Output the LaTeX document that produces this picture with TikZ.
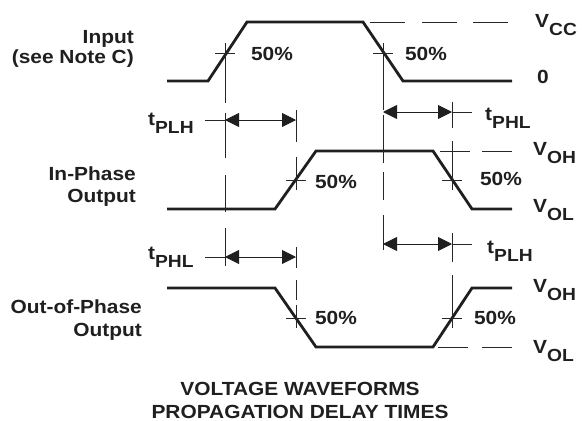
\documentclass[tikz,border=0pt]{standalone}
\usepackage{fontspec}
\setmainfont{Liberation Sans Bold}[FakeStretch=1.1]
\usetikzlibrary{arrows.meta}
\newcommand\lblfont{\fontsize{19}{22}\selectfont}
\newcommand\lvl[2]{#1\raisebox{-8pt}{\fontsize{17.5}{18}\selectfont #2}}
\begin{document}
\begin{tikzpicture}[x=1pt,y=-1pt,
  >={Triangle[length=14pt,width=14pt]},
  wave/.style={line width=2.8pt, line join=miter, color=black!88},
  thin/.style={line width=0.9pt, color=black!85},
  hdsh/.style={line width=0.9pt, color=black!85},
  dim/.style={line width=0.9pt, color=black!88, <->},
  lbl/.style={inner sep=0pt, font=\lblfont, text=black!88}]
\useasboundingbox (0,0) rectangle (582,421);

% ---------- waveforms ----------
\coordinate (i0) at (167,81);  \coordinate (i1) at (208,81);
\coordinate (i2) at (247,22);  \coordinate (i3) at (363,22);
\coordinate (i4) at (403,81);  \coordinate (i5) at (512,81);
\draw[wave] (i0) -- (i1) -- (i2) -- (i3) -- (i4) -- (i5);

\coordinate (p0) at (167,209); \coordinate (p1) at (275,209);
\coordinate (p2) at (316,151); \coordinate (p3) at (433,151);
\coordinate (p4) at (472,209); \coordinate (p5) at (512,209);
\draw[wave] (p0) -- (p1) -- (p2) -- (p3) -- (p4) -- (p5);

\coordinate (q0) at (167,288); \coordinate (q1) at (275,288);
\coordinate (q2) at (316,347); \coordinate (q3) at (433,347);
\coordinate (q4) at (472,288); \coordinate (q5) at (512,288);
\draw[wave] (q0) -- (q1) -- (q2) -- (q3) -- (q4) -- (q5);

% ---------- level dashed lines ----------
\draw[hdsh] (370,22) -- (405,22) (422,22) -- (457,22) (473,22) -- (508,22);
\draw[hdsh] (440,151) -- (470,151) (482,151) -- (512,151);
\draw[hdsh] (438,347) -- (468,347) (482,347) -- (512,347);

% ---------- 50% crosses ----------
\foreach \x/\y in {225/53, 383/53, 296/180, 452/180, 296/318, 452/318}{
  \draw[thin] (\x-10,\y) -- (\x+10,\y) (\x,\y-10) -- (\x,\y+10);
}

% ---------- vertical dashed reference lines ----------
\draw[thin] (225,63) -- (225,103) (225,113) -- (225,158) (225,175) -- (225,212) (225,228) -- (225,266);
\draw[thin] (296,110) -- (296,142) (296,157) -- (296,170) (296,247) -- (296,268) (296,280) -- (296,300) (296,305) -- (296,328);
\draw[thin] (383,63) -- (383,110) (383,115) -- (383,163) (383,172) -- (383,200) (383,215) -- (383,250);
\draw[thin] (452,102) -- (452,128) (452,141) -- (452,170) (452,233) -- (452,262) (452,275) -- (452,328);

% ---------- timing arrows ----------
\coordinate (a1l) at (225,120); \coordinate (a1r) at (296,120); \coordinate (a1e) at (205,120);
\draw[dim] (a1l) -- (a1r); \draw[thin] (a1e) -- (a1l);
\coordinate (a2l) at (383,112); \coordinate (a2r) at (452,112); \coordinate (a2e) at (472,112);
\draw[dim] (a2l) -- (a2r); \draw[thin] (a2r) -- (a2e);
\coordinate (a3l) at (225,257); \coordinate (a3r) at (296,257); \coordinate (a3e) at (205,257);
\draw[dim] (a3l) -- (a3r); \draw[thin] (a3e) -- (a3l);
\coordinate (a4l) at (383,244); \coordinate (a4r) at (452,244); \coordinate (a4e) at (472,244);
\draw[dim] (a4l) -- (a4r); \draw[thin] (a4r) -- (a4e);

% ---------- labels ----------
\node[lbl, anchor=base east] (inA) at (134,43) {Input};
\node[lbl, anchor=base east] (inB) at (134,63) {(see Note C)};
\node[lbl, anchor=base east] (ipA) at (136,180) {In-Phase};
\node[lbl, anchor=base east] (ipB) at (136,202) {Output};
\node[lbl, anchor=base east] (opA) at (142,313) {Out-of-Phase};
\node[lbl, anchor=base east] (opB) at (142,336) {Output};

\node[lbl, anchor=base] (f1) at (272,60) {50\%};
\node[lbl, anchor=base] (f2) at (426,60) {50\%};
\node[lbl, anchor=base] (f3) at (336,188) {50\%};
\node[lbl, anchor=base] (f4) at (501,185) {50\%};
\node[lbl, anchor=base] (f5) at (336,324) {50\%};
\node[lbl, anchor=base] (f6) at (495,324) {50\%};

\node[lbl, anchor=base west] (vcc) at (535,27) {\lvl{V}{CC}};
\node[lbl, anchor=base west] (zero) at (537,83) {0};
\node[lbl, anchor=base west] (voh1) at (533,155) {\lvl{V}{OH}};
\node[lbl, anchor=base west] (vol1) at (533,212) {\lvl{V}{OL}};
\node[lbl, anchor=base west] (voh2) at (533,292) {\lvl{V}{OH}};
\node[lbl, anchor=base west] (vol2) at (533,353) {\lvl{V}{OL}};

\node[lbl, anchor=base west] (t1) at (148,125) {\lvl{t}{PLH}};
\node[lbl, anchor=base west] (t2) at (485,120) {\lvl{t}{PHL}};
\node[lbl, anchor=base west] (t3) at (148,259) {\lvl{t}{PHL}};
\node[lbl, anchor=base west] (t4) at (487,253) {\lvl{t}{PLH}};

\node[lbl, anchor=base] (ttl1) at (300,395) {VOLTAGE WAVEFORMS};
\node[lbl, anchor=base] (ttl2) at (300,418) {PROPAGATION DELAY TIMES};
\end{tikzpicture}
\end{document}
